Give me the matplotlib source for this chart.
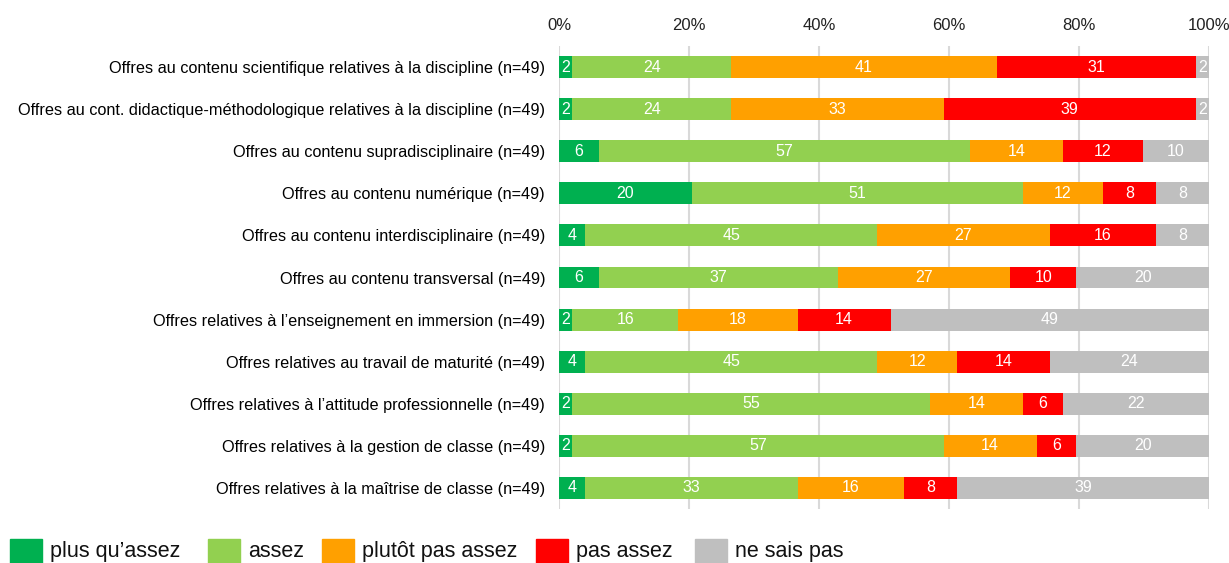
import numpy as np
import matplotlib.pyplot as plt
from matplotlib.patches import Rectangle

plt.rcParams['font.family'] = ['Liberation Sans', 'DejaVu Sans']

# Categories (top to bottom)
categories = [
    'Offres au contenu scientifique relatives à la discipline (n=49)',
    'Offres au cont. didactique-méthodologique relatives à la discipline (n=49)',
    'Offres au contenu supradisciplinaire (n=49)',
    'Offres au contenu numérique (n=49)',
    'Offres au contenu interdisciplinaire (n=49)',
    'Offres au contenu transversal (n=49)',
    'Offres relatives à l’enseignement en immersion (n=49)',
    'Offres relatives au travail de maturité (n=49)',
    'Offres relatives à l’attitude professionnelle (n=49)',
    'Offres relatives à la gestion de classe (n=49)',
    'Offres relatives à la maîtrise de classe (n=49)',
]

# Number of answers per category (n=49)
plus_quassez = [1, 1, 3, 10, 2, 3, 1, 2, 1, 1, 2]
assez = [12, 12, 28, 25, 22, 18, 8, 22, 27, 28, 16]
plutot_pas_assez = [20, 16, 7, 6, 13, 13, 9, 6, 7, 7, 8]
pas_assez = [15, 19, 6, 4, 8, 5, 7, 7, 3, 3, 4]
ne_sais_pas = [1, 1, 5, 4, 4, 10, 24, 12, 11, 10, 19]
n_total = 49

series = [plus_quassez, assez, plutot_pas_assez, pas_assez, ne_sais_pas]
series_names = ['plus qu’assez', 'assez', 'plutôt pas assez', 'pas assez', 'ne sais pas']
colors = ['#00B050', '#92D050', '#FFA000', '#FF0000', '#BFBFBF']

W, H = 1229, 563
fig = plt.figure(figsize=(W / 100, H / 100), dpi=100)
ax = fig.add_axes([0.4548, 0.0959, 0.5289, 0.8224])

y = np.arange(len(categories))
left = np.zeros(len(categories))
for vals, name, col in zip(series, series_names, colors):
    pct = np.array(vals) / n_total * 100
    ax.barh(y, pct, left=left, height=0.52, color=col, label=name, zorder=2)
    for yi, l, p in zip(y, left, pct):
        if p > 0:
            ax.text(l + p / 2, yi, f'{p:.0f}', ha='center', va='center',
                    color='white', fontsize=11.5, zorder=3)
    left += pct

ax.set_xlim(0, 100)
ax.set_ylim(len(categories) - 0.5, -0.5)
ax.set_xticks(np.arange(0, 101, 20))
ax.set_xticklabels([f'{t}%' for t in range(0, 101, 20)], fontsize=12)
ax.xaxis.tick_top()
ax.tick_params(axis='x', length=0, pad=9, colors='#222222')
ax.set_yticks(y)
ax.set_yticklabels(categories, fontsize=11.7)
ax.tick_params(axis='y', length=0, pad=10)
ax.grid(axis='x', color='#D9D9D9', linewidth=1.5, zorder=0)
for s in ax.spines.values():
    s.set_visible(False)

# Legend at the bottom, placed by hand (pixel positions of the squares)
legend_x = [10, 208, 322, 536, 695]
for x0, name, col in zip(legend_x, series_names, colors):
    fig.add_artist(Rectangle((x0 / W, 0), 32 / W, 24 / H,
                             transform=fig.transFigure, color=col))
    fig.text((x0 + 40) / W, 1 - 557 / H, name, fontsize=15.5,
             va='baseline', ha='left', color='#111111')

plt.savefig('out.png', dpi=100)
